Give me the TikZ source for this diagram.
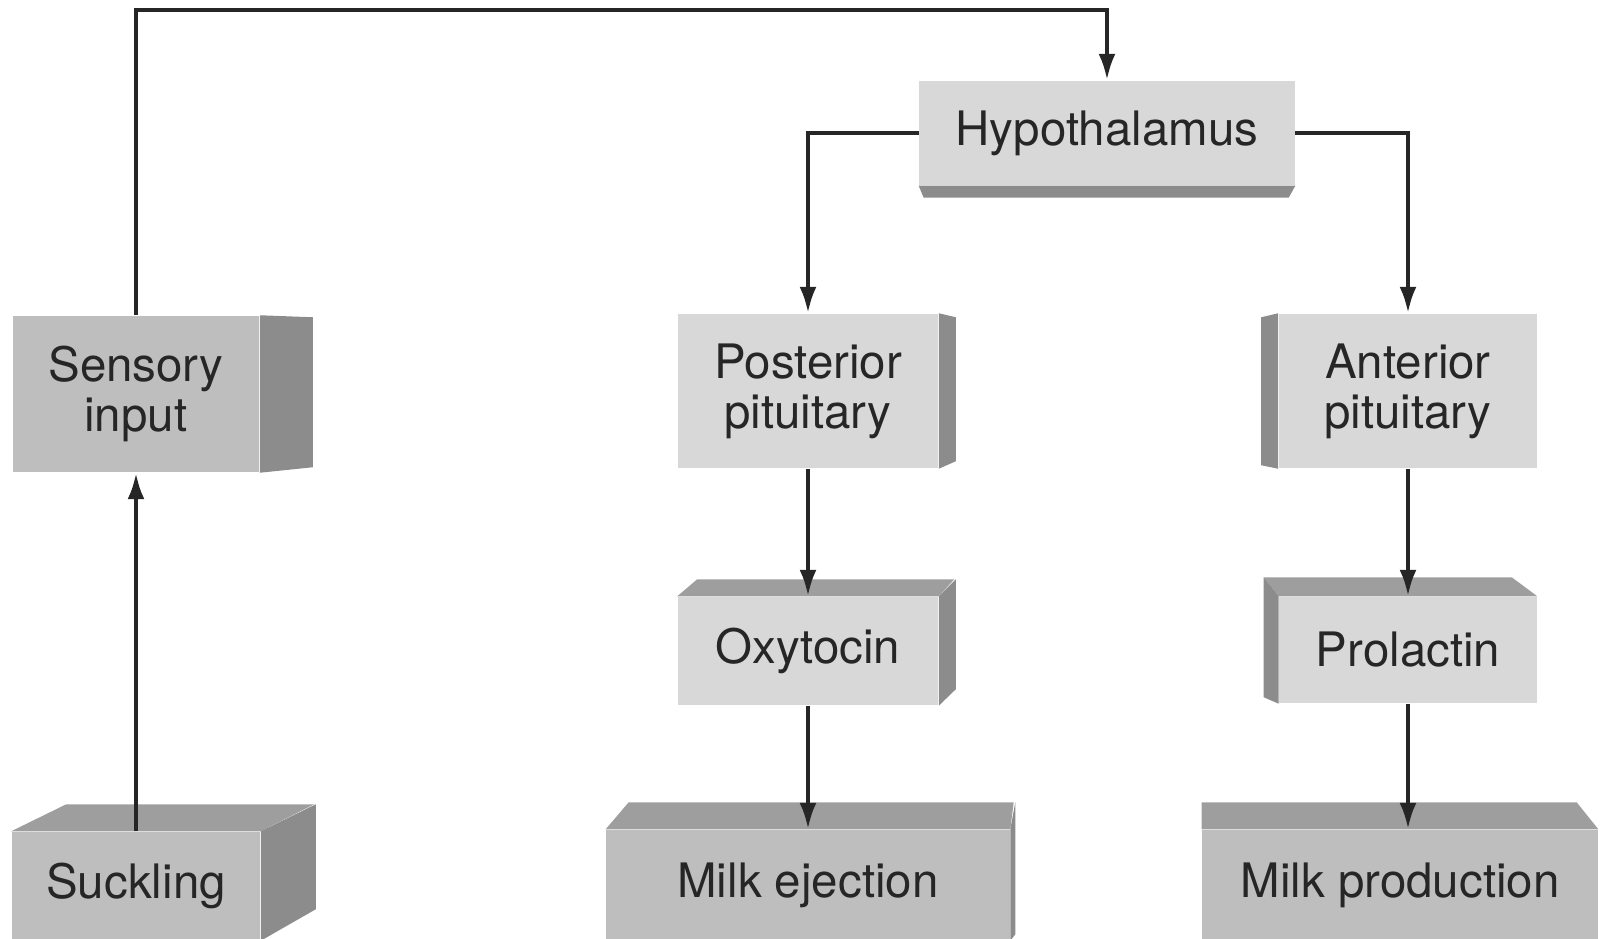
\documentclass[tikz,border=0pt]{standalone}
\usepackage{fontspec}
\setmainfont{TeX Gyre Heros}
\usepackage{tikz}
\usetikzlibrary{arrows.meta}
\definecolor{paleface}{HTML}{D8D8D8}
\definecolor{deepface}{HTML}{BEBEBE}
\definecolor{sideface}{HTML}{8C8C8C}
\definecolor{lidface}{HTML}{9E9E9E}
\tikzset{
  blk/.style={inner sep=0pt, align=center, text=black!85,
    font=\fontsize{13.5}{14.2}\selectfont},
  pale/.style={blk, fill=paleface},
  deep/.style={blk, fill=deepface},
  shade/.style={fill=sideface},
  lid/.style={fill=lidface},
  link/.style={line width=1.2pt, black!85, -{Latex[length=7.5pt,width=4.8pt]}},
}

\begin{document}
\begin{tikzpicture}[x=0.01cm,y=-0.01cm]
  \useasboundingbox (0,0) rectangle (1602,939);
  \coordinate (top) at (0,10);
  % front faces
  \node[deep, minimum width=2.46cm, minimum height=1.56cm] (sensory) at (136,394) {Sensory\\input};
  \node[pale, minimum width=3.75cm, minimum height=1.04cm] (hypo) at (1107,133) {Hypothalamus};
  \node[pale, minimum width=2.60cm, minimum height=1.54cm] (post) at (808,391) {Posterior\\pituitary};
  \node[pale, minimum width=2.58cm, minimum height=1.54cm] (ant) at (1408,391) {Anterior\\pituitary};
  \node[pale, minimum width=2.60cm, minimum height=1.08cm] (oxy) at (808,651) {Oxytocin};
  \node[pale, minimum width=2.57cm, minimum height=1.06cm] (prol) at (1408,650) {Prolactin};
  \node[deep, minimum width=2.48cm, minimum height=1.08cm] (suck) at (136,886) {Suckling};
  \node[deep, minimum width=4.03cm, minimum height=1.10cm] (ejec) at (808,885) {Milk ejection};
  \node[deep, minimum width=3.95cm, minimum height=1.10cm] (prod) at (1400,885) {Milk production};
  % sides and tops
  \fill[shade] (sensory.north east) -- ++(53,2) -- ++(0,150) -- (sensory.south east) -- cycle;
  \fill[shade] (hypo.south west) -- ++(5,12) -- ++(365,0) -- (hypo.south east) -- cycle;
  \fill[shade] (post.north east) -- ++(17,4) -- ++(0,144) -- (post.south east) -- cycle;
  \fill[shade] (ant.north west) -- ++(-17,4) -- ++(0,148) -- (ant.south west) -- cycle;
  \fill[lid] (oxy.north west) -- ++(20,-17) -- ++(257,0) -- (oxy.north east) -- cycle;
  \fill[shade] (oxy.north east) -- ++(17,-17) -- ++(0,110) -- (oxy.south east) -- cycle;
  \fill[lid] (prol.north west) -- ++(-15,-19) -- ++(248,0) -- (prol.north east) -- cycle;
  \fill[shade] (prol.north west) -- ++(-15,-19) -- ++(0,120) -- (prol.south west) -- cycle;
  \fill[lid] (suck.north west) -- ++(55,-27) -- ++(248,0) -- (suck.north east) -- cycle;
  \fill[shade] (suck.north east) -- ++(55,-27) -- ++(0,105) -- (suck.south east) -- cycle;
  \fill[lid] (ejec.north west) -- ++(23,-27) -- ++(385,0) -- (ejec.north east) -- cycle;
  \fill[shade] (ejec.north east) -- ++(5,-27) -- ++(0,132) -- (ejec.south east) -- cycle;
  \fill[lid] (prod.north west) -- ++(0,-27) -- ++(375,0) -- (prod.north east) -- cycle;
  % connectors
  \draw[link] (suck) -- (sensory);
  \draw[link] (sensory) |- (top -| hypo) -- (hypo);
  \draw[link] (hypo) -| (post);
  \draw[link] (hypo) -| (ant);
  \draw[link] (post) -- (oxy);
  \draw[link] (ant) -- (prol);
  \draw[link] (oxy) -- (ejec);
  \draw[link] (prol) -- (prol |- prod.north);
\end{tikzpicture}
\end{document}
